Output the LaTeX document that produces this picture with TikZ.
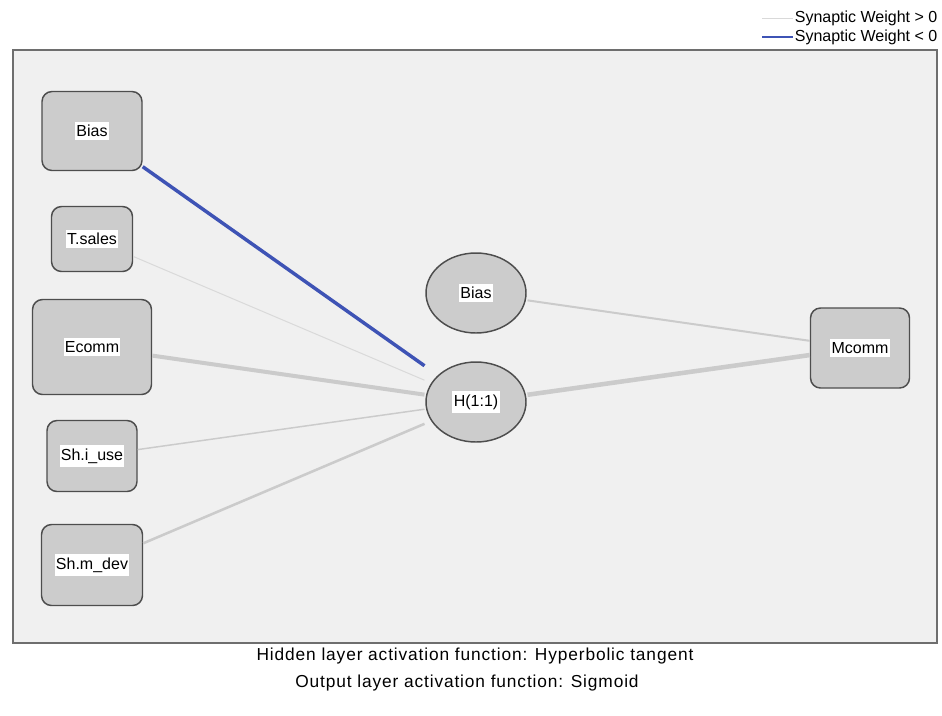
\documentclass[tikz,border=0pt]{standalone}
\usepackage{fontspec}
\setmainfont{Liberation Sans}
\newfontfamily\capfont[LetterSpace=5.0]{Liberation Sans}

\definecolor{panelfill}{HTML}{F0F0F0}
\definecolor{panelline}{HTML}{6E6E6E}
\definecolor{nodefill}{HTML}{CCCCCC}
\definecolor{nodeline}{HTML}{4D4D4D}
\definecolor{wpos}{HTML}{CBCBCB}
\definecolor{wposlight}{HTML}{D9D9D9}
\definecolor{wneg}{HTML}{3E53B5}

\tikzset{every picture/.style={line width=0.75pt}}
\tikzset{
  lbl/.style={fill=white, inner xsep=1pt, inner ysep=2.5pt, font=\fontsize{12}{14}\selectfont},
  inbox/.style={draw=nodeline, fill=nodefill, line width=1.1pt, rounded corners=7.5pt, inner sep=0pt},
  hidnode/.style={inner sep=0pt, minimum width=76.5pt, minimum height=61.5pt,
    path picture={\draw[draw=nodeline, fill=nodefill, line width=1.1pt] (path picture bounding box.center) ellipse [x radius=50, y radius=40];}},
  wpos/.style={draw=wpos},
  wneg/.style={draw=wneg},
  lgtext/.style={anchor=west, inner sep=1pt, font=\fontsize{12}{14}\selectfont},
  captext/.style={inner sep=1pt, font=\capfont\fontsize{13}{15}\selectfont}
}

\begin{document}
\begin{tikzpicture}[x=0.75pt,y=0.75pt,yscale=-1,xscale=1]
\useasboundingbox (0,0) rectangle (942,715);

%Shape: Rectangle [panel]
\draw [draw=panelline, fill=panelfill, line width=1.5pt] (13,50) rectangle (937,643);

% Input Nodes
\node [inbox, minimum width=75pt, minimum height=59.25pt, label={[lbl]center:Bias}] (bias) at (92,131) {};
\node [inbox, minimum width=60.75pt, minimum height=48.75pt, label={[lbl]center:T.sales}] (tsales) at (92,239) {};
\node [inbox, minimum width=89.25pt, minimum height=71.25pt, label={[lbl]center:Ecomm}] (ecomm) at (92,347) {};
\node [inbox, minimum width=67.5pt, minimum height=53.25pt, label={[lbl]center:Sh.i\_use}] (shiuse) at (92,456) {};
\node [inbox, minimum width=75.75pt, minimum height=60.75pt, label={[lbl]center:Sh.m\_dev}] (shmdev) at (92,565) {};

% Hidden Nodes
\node [hidnode, label={[lbl]center:Bias}] (hbias) at (476,293) {};
\node [hidnode, label={[lbl]center:H(1:1)}] (h11) at (476,402) {};

% Output Node
\node [inbox, minimum width=74.25pt, minimum height=60pt, label={[lbl]center:Mcomm}] (mcomm) at (860,348) {};

%Straight Lines [input to hidden]
\draw [wneg, line width=2.6pt] (bias) -- (h11);
\draw [draw=wposlight, line width=0.75pt] (tsales) -- (h11);
\draw [wpos, line width=3pt] (ecomm) -- (h11);
\draw [wpos, line width=1.1pt] (shiuse) -- (h11);
\draw [wpos, line width=1.9pt] (shmdev) -- (h11);
%Straight Lines [hidden to output]
\draw [wpos, line width=1.5pt] (hbias) -- (mcomm);
\draw [wpos, line width=3.4pt] (h11) -- (mcomm);

% Legend
\node [lgtext] (lgpos) at (793,18) {Synaptic Weight > 0};
\node [lgtext] (lgneg) at (793,37) {Synaptic Weight < 0};
\coordinate (lgposstart) at (762,18);
\coordinate (lgnegstart) at (762,37);
\draw [draw=wposlight, line width=0.75pt] (lgposstart) -- (lgpos);
\draw [wneg, line width=1.5pt] (lgnegstart) -- (lgneg);

% Text Node
\node [captext] (caphid) at (475,656) {Hidden layer activation function: Hyperbolic tangent};
% Text Node
\node [captext] (capout) at (467,683) {Output layer activation function: Sigmoid};

\end{tikzpicture}
\end{document}
